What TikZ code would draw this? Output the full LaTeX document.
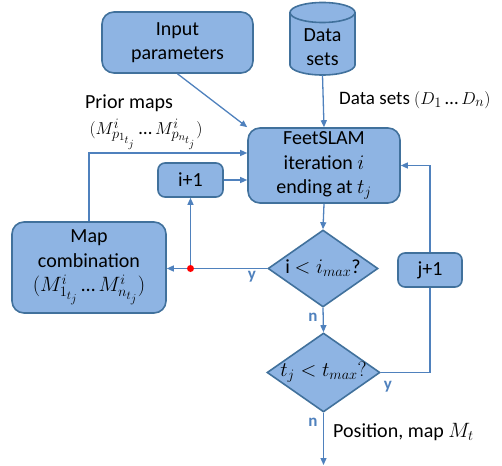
\documentclass[tikz,border=0pt]{standalone}
\usepackage{fontspec}
\setmainfont{Carlito}
\DeclareMathSizes{20}{20}{15}{12}
\DeclareMathSizes{19}{19}{14}{11}
\usetikzlibrary{shapes.geometric,arrows.meta,calc}
\definecolor{boxfill}{HTML}{8EB4E3}
\definecolor{boxline}{HTML}{41719C}
\definecolor{conn}{HTML}{4F81BD}
\begin{document}
\begin{tikzpicture}[x=1pt,y=-1pt,
  box/.style={draw=boxline, fill=boxfill, line width=1.6pt, rounded corners=12pt, align=center, inner sep=0pt, font=\fontsize{20}{24.5}\selectfont},
  smallbox/.style={box, rounded corners=7pt},
  decide/.style={diamond, draw=boxline, fill=boxfill, line width=1.6pt, inner sep=0pt, font=\fontsize{20}{24}\selectfont},
  conline/.style={draw=conn, line width=1.3pt},
  arr/.style={conline, -{Triangle[length=7pt,width=6pt]}},
  yn/.style={text=conn, font=\fontsize{17}{18}\selectfont\bfseries},
  lbl/.style={font=\fontsize{20}{24}\selectfont, align=center, inner sep=0pt},
  smalllbl/.style={lbl, font=\fontsize{19}{23}\selectfont}
]
\useasboundingbox (0,0) rectangle (502,465);

% nodes
\node[box, minimum width=151, minimum height=61] (inp) at (177.5,42.5) {Input\\parameters};

% data sets cylinder
\node[minimum width=65, minimum height=73, inner sep=0pt] (data) at (322.5,38.5) {};
\draw[boxline, fill=boxfill, line width=1.6pt]
  (290,12.5) -- (290,65) arc[start angle=180, end angle=0, x radius=32.5, y radius=10]
  -- (355,12.5) arc[start angle=0, end angle=-180, x radius=32.5, y radius=10] -- cycle;
\draw[boxline, line width=1.6pt] (290,12.5) arc[start angle=180, end angle=0, x radius=32.5, y radius=10];
\node[lbl] at (322.5,47) {Data\\sets};

\node[box, minimum width=152, minimum height=75] (feet) at (324,165.5) {FeetSLAM\\iteration $i$\\ending at $t_j$};
\node[smallbox, minimum width=65, minimum height=34] (ip) at (190.5,180) {i+1};
\node[box, minimum width=154, minimum height=91] (mapc) at (89,267.5) {Map\\combination\\$(M^i_{1_{t_j}}$\,…\,$M^i_{n_{t_j}})$};
\node[decide, minimum width=110, minimum height=77] (d1) at (323,268.5) {\makebox[0pt]{i $<i_{max}$?}};
\node[smallbox, minimum width=64, minimum height=34] (jp) at (430,270) {j+1};
\node[decide, minimum width=113, minimum height=79] (d2) at (323.5,372.5) {\makebox[0pt]{$t_j<t_{max}?$}};

\coordinate (dot) at (ip.south |- d1.west);
\coordinate (out) at (323.5,465);

% labels
\node[lbl] at (129,103) {Prior maps};
\node[smalllbl] at (146,134) {$(M^i_{p_{1_{t_j}}}$\,…\,$M^i_{p_{n_{t_j}}})$};
\node[smalllbl, anchor=west] at (339,100) {Data sets $(D_1$\,…\,$D_n)$};
\node[lbl, anchor=west] at (333,432) {Position, map $M_t$};
\node[yn] at (252,277) {y};
\node[yn] at (313,317) {n};
\node[yn] at (388,387) {y};
\node[yn] at (313,422) {n};

% connectors
\draw[arr] (data.south) -- (feet.north);
\draw[arr] (inp.south) -- (feet.north west);
\draw[arr] (mapc.north) |- ([yshift=12.5pt]feet.west);
\draw[arr] (ip.east) -- (ip.east -| feet.west);
\draw[arr] (feet.south) -- (d1.north);
\draw[arr] (d1.west) -- (d1.west -| mapc.east);
\draw[arr] (dot) -- (ip.south);
\draw[arr] (d1.south) -- (d2.north);
\draw[conline] (d2.east) -| (jp.south);
\draw[arr] (jp.north) |- (feet.east);
\draw[arr] (d2.south) -- (out);
\fill[red] (dot) circle (3.5pt);
\end{tikzpicture}
\end{document}
